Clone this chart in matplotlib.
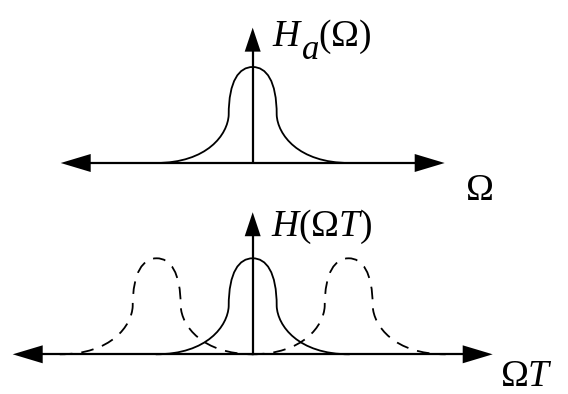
import matplotlib
matplotlib.use("Agg")
import matplotlib.pyplot as plt
from matplotlib.path import Path
from matplotlib.patches import PathPatch, Polygon

plt.rcParams['mathtext.fontset'] = 'custom'
plt.rcParams['mathtext.rm'] = 'Liberation Serif'
plt.rcParams['mathtext.it'] = 'Liberation Serif:italic'
plt.rcParams['font.family'] = ['Liberation Serif', 'DejaVu Serif']

# ---- data (schematic units: 1 = spacing between spectral copies, peak height = 1)
# half profile of one lobe, as cubic Bezier control points (dx, height), tail -> shoulder -> peak
lobe_lower = [(-1.01, 0.0), (-0.47, 0.0), (-0.26, 0.30), (-0.25, 0.50)]
lobe_upper = [(-0.25, 0.50), (-0.25, 0.86), (-0.14, 1.00), (0.0, 1.00)]
top_copies = [0]            # analog response: single lobe
bottom_solid = [0]          # baseband copy
bottom_dashed = [-1, 1]     # periodic images
top_axis_extent = (-2.0, 2.0, 1.41)      # left, right, up
bottom_axis_extent = (-2.5, 2.5, 1.48)
top_ylabel_parts = [r'$H$', r'$a$', r'$(\Omega)$']
top_xlabel = r'$\Omega$'
bot_ylabel = r'$H(\Omega T)$'
bot_xlabel = r'$\Omega T$'

# ---- layout (pixels)
W, H = 568, 394
CX = 252.7
UNIT = 96.0
BASE_TOP, BASE_BOT = 163.0, 354.3
FS = 27

fig = plt.figure(figsize=(W / 100, H / 100), dpi=100)
ax = fig.add_axes([0, 0, 1, 1])
ax.set_xlim(0, W)
ax.set_ylim(H, 0)
ax.axis('off')


def to_px(u, v, base):
    return CX + u * UNIT, base - v * UNIT


def lobe(center, base, dashed):
    verts, codes = [], []
    half_l = lobe_lower + lobe_upper[1:]
    pts = [(center + u, v) for u, v in half_l]
    pts += [(center - u, v) for u, v in reversed(half_l[:-1])]
    for i, (u, v) in enumerate(pts):
        verts.append(to_px(u, v, base))
        codes.append(Path.MOVETO if i == 0 else Path.CURVE4)
    p = Path(verts, codes)
    ls = (0, (7, 5)) if dashed else '-'
    ax.add_patch(PathPatch(p, fill=False, lw=1.3, edgecolor='black',
                           linestyle=ls, capstyle='butt'))


def axes_arrows(base, extent):
    left, right, up = extent
    hl, hw = 30.0, 9.0
    x0, _ = to_px(left, 0, base)
    x1, _ = to_px(right, 0, base)
    ax.plot([x0 + hl * 0.9, x1 - hl * 0.9], [base, base], color='black', lw=1.6,
            solid_capstyle='butt')
    ax.add_patch(Polygon([(x0, base), (x0 + hl, base - hw), (x0 + hl, base + hw)],
                         closed=True, color='black', lw=0))
    ax.add_patch(Polygon([(x1, base), (x1 - hl, base - hw), (x1 - hl, base + hw)],
                         closed=True, color='black', lw=0))
    _, ytip = to_px(0, up, base)
    vl, vw = 24.0, 8.0
    ax.plot([CX, CX], [base, ytip + vl * 0.9], color='black', lw=1.6,
            solid_capstyle='butt')
    ax.add_patch(Polygon([(CX, ytip), (CX - vw, ytip + vl), (CX + vw, ytip + vl)],
                         closed=True, color='black', lw=0))


# top panel
for c in top_copies:
    lobe(c, BASE_TOP, False)
axes_arrows(BASE_TOP, top_axis_extent)
ax.text(272, 46, top_ylabel_parts[0], fontsize=FS, ha='left', va='baseline')
ax.text(301, 59, top_ylabel_parts[1], fontsize=FS - 2, ha='left', va='baseline')
ax.text(318, 46, top_ylabel_parts[2], fontsize=FS, ha='left', va='baseline')
ax.text(465, 200, top_xlabel, fontsize=FS, ha='left', va='baseline')

# bottom panel
for c in bottom_dashed:
    lobe(c, BASE_BOT, True)
for c in bottom_solid:
    lobe(c, BASE_BOT, False)
axes_arrows(BASE_BOT, bottom_axis_extent)
ax.text(271, 236, bot_ylabel, fontsize=FS, ha='left', va='baseline')
ax.text(500, 386, bot_xlabel, fontsize=FS, ha='left', va='baseline')

fig.savefig('out.png', dpi=100, facecolor='white')
